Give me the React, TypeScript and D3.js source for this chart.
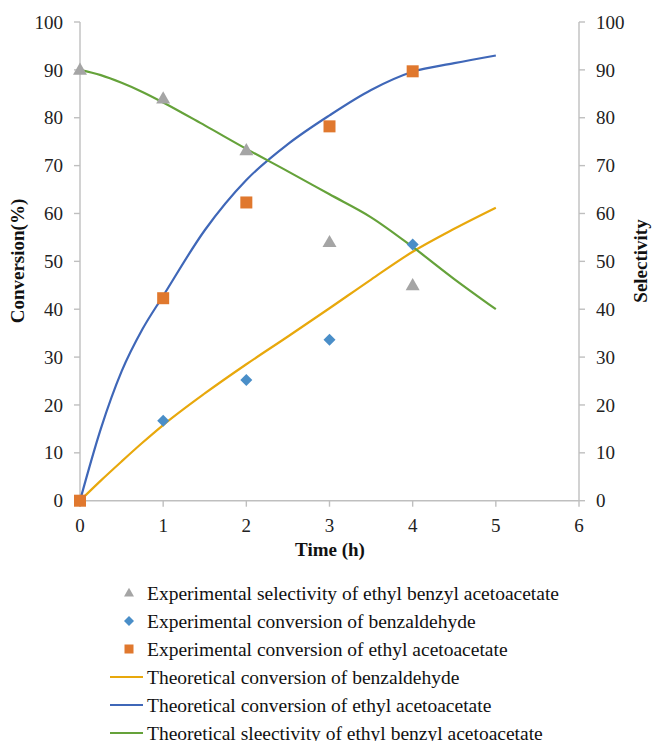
import React from "react";
import * as d3 from "d3";

const times = [0, 1, 2, 3, 4];
const expSelectivity = [90, 84, 73.2, 54, 45];
const expConvBenz = [0, 16.7, 25.2, 33.6, 53.5];
const expConvEAA = [0, 42.3, 62.3, 78.2, 89.7];

const theoTimes = [0, 0.25, 0.5, 0.75, 1, 1.5, 2, 2.5, 3, 3.5, 4, 4.5, 5];
const theoConvBenz = [0, 4.2, 8.2, 12.1, 15.8, 22.4, 28.5, 34.3, 40.2, 46.2, 52, 56.8, 61.2];
const theoConvEAA = [0, 15, 27, 35.8, 42.8, 56.5, 67, 74.5, 80.5, 85.8, 89.6, 91.4, 93];
const theoSelectivity = [90, 88.9, 87.3, 85.4, 83.2, 78.4, 73.5, 68.8, 64, 59.2, 53, 46.3, 40];

const xTicks = [0, 1, 2, 3, 4, 5, 6];
const yTicks = [0, 10, 20, 30, 40, 50, 60, 70, 80, 90, 100];

const legendItems = [
  "Experimental selectivity of ethyl benzyl acetoacetate",
  "Experimental conversion of benzaldehyde",
  "Experimental conversion of ethyl acetoacetate",
  "Theoretical conversion of benzaldehyde",
  "Theoretical conversion of ethyl acetoacetate",
  "Theoretical sleectivity of ethyl benzyl acetoacetate",
];

const C_GRAY = "#a5a5a5";
const C_DIAMOND = "#4a8ec8";
const C_ORANGE = "#e0782e";
const C_YELLOW = "#e8a80c";
const C_BLUE = "#3f67b8";
const C_GREEN = "#65a23a";
const C_AXIS = "#bfbfbf";
const FONT = "'Liberation Serif', 'Times New Roman', serif";

function Triangle({ x, y, s }: { x: number; y: number; s: number }) {
  const h = s * 0.87;
  return (
    <path
      d={`M${x},${y - h * 0.6} L${x + s / 2},${y + h * 0.4} L${x - s / 2},${y + h * 0.4} Z`}
      fill={C_GRAY}
    />
  );
}
function Diamond({ x, y, s }: { x: number; y: number; s: number }) {
  const r = s / 2;
  return <path d={`M${x},${y - r} L${x + r},${y} L${x},${y + r} L${x - r},${y} Z`} fill={C_DIAMOND} />;
}
function Square({ x, y, s }: { x: number; y: number; s: number }) {
  return <rect x={x - s / 2} y={y - s / 2} width={s} height={s} fill={C_ORANGE} />;
}

export default function App() {
  const left = 80;
  const right = 579;
  const top = 22;
  const bottom = 500.7;
  const x = d3.scaleLinear().domain([0, 6]).range([left, right]);
  const y = d3.scaleLinear().domain([0, 100]).range([bottom, top]);

  const line = d3
    .line<[number, number]>()
    .x((d) => x(d[0]))
    .y((d) => y(d[1]))
    .curve(d3.curveMonotoneX);

  const mk = (vals: number[]) => theoTimes.map((t, i) => [t, vals[i]] as [number, number]);

  const fs = 19;
  const lfs = 19.5;
  const legendTop = 593;
  const legendStep = 28;

  return (
    <svg
      width={654}
      height={741}
      style={{ position: "absolute", left: 0, top: 0, background: "#fff" }}
      fontFamily={FONT}
    >
      {/* axes */}
      <line x1={left} x2={left} y1={top} y2={bottom} stroke={C_AXIS} strokeWidth={1.4} />
      <line x1={right} x2={right} y1={top} y2={bottom} stroke={C_AXIS} strokeWidth={1.4} />
      <line x1={left} x2={right} y1={bottom} y2={bottom} stroke={C_AXIS} strokeWidth={1.4} />
      {yTicks.map((t) => (
        <g key={"yt" + t}>
          <line x1={left - 6} x2={left} y1={y(t)} y2={y(t)} stroke={C_AXIS} strokeWidth={1.4} />
          <text x={63} y={y(t)} dy="0.35em" textAnchor="end" fontSize={fs} fill="#222">
            {t}
          </text>
          <line x1={right} x2={right + 6} y1={y(t)} y2={y(t)} stroke={C_AXIS} strokeWidth={1.4} />
          <text x={596} y={y(t)} dy="0.35em" textAnchor="start" fontSize={fs} fill="#222">
            {t}
          </text>
        </g>
      ))}
      {xTicks.map((t) => (
        <g key={"xt" + t}>
          <line x1={x(t)} x2={x(t)} y1={bottom} y2={bottom + 6} stroke={C_AXIS} strokeWidth={1.4} />
          <text x={x(t)} y={525} dy="0.35em" textAnchor="middle" fontSize={fs} fill="#222">
            {t}
          </text>
        </g>
      ))}

      {/* axis titles */}
      <text
        transform={`translate(24,261) rotate(-90)`}
        textAnchor="middle"
        fontSize={fs}
        fontWeight="bold"
        fill="#111"
      >
        Conversion(%)
      </text>
      <text
        transform={`translate(647,261) rotate(-90)`}
        textAnchor="middle"
        fontSize={fs}
        fontWeight="bold"
        fill="#111"
      >
        Selectivity
      </text>
      <text x={330} y={556} textAnchor="middle" fontSize={fs} fontWeight="bold" fill="#111">
        Time (h)
      </text>

      {/* theoretical lines */}
      <path d={line(mk(theoConvBenz)) || ""} fill="none" stroke={C_YELLOW} strokeWidth={2.2} />
      <path d={line(mk(theoConvEAA)) || ""} fill="none" stroke={C_BLUE} strokeWidth={2.2} />
      <path d={line(mk(theoSelectivity)) || ""} fill="none" stroke={C_GREEN} strokeWidth={2.2} />

      {/* experimental markers */}
      {times.map((t, i) => (
        <Triangle key={"tr" + i} x={x(t)} y={y(expSelectivity[i])} s={14} />
      ))}
      {times.map((t, i) => (
        <Diamond key={"di" + i} x={x(t)} y={y(expConvBenz[i])} s={12} />
      ))}
      {times.map((t, i) => (
        <Square key={"sq" + i} x={x(t)} y={y(expConvEAA[i])} s={12} />
      ))}

      {/* legend */}
      {legendItems.map((label, i) => {
        const cy = legendTop + i * legendStep;
        let marker: React.ReactNode = null;
        if (i === 0) marker = <Triangle x={129} y={cy} s={10} />;
        else if (i === 1) marker = <Diamond x={129} y={cy} s={10} />;
        else if (i === 2) marker = <Square x={129} y={cy} s={9} />;
        else {
          const c = i === 3 ? C_YELLOW : i === 4 ? C_BLUE : C_GREEN;
          marker = <line x1={110} x2={143} y1={cy} y2={cy} stroke={c} strokeWidth={2.2} />;
        }
        return (
          <g key={"lg" + i}>
            {marker}
            <text x={147} y={cy} dy="0.35em" fontSize={lfs} fill="#111">
              {label}
            </text>
          </g>
        );
      })}
    </svg>
  );
}
